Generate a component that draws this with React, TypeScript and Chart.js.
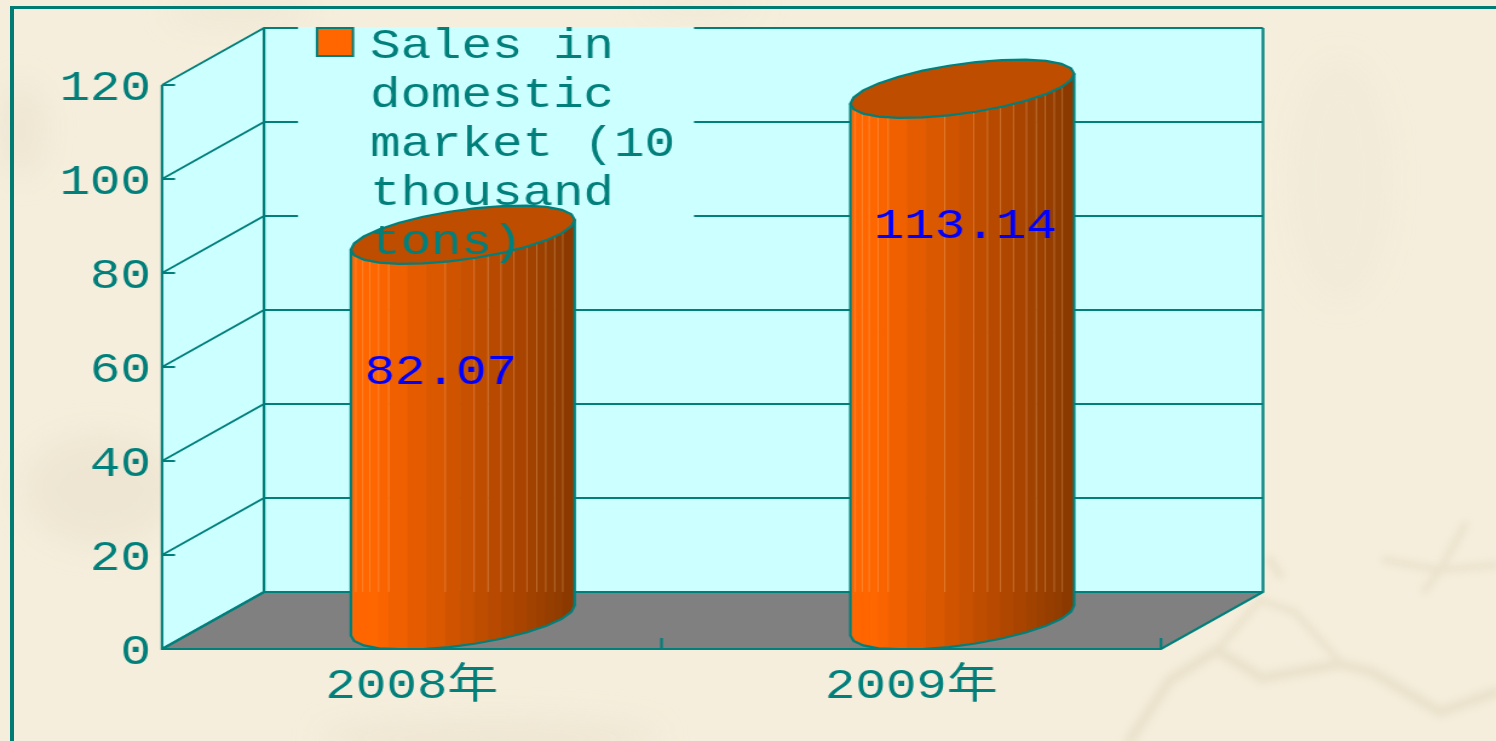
import React, { useEffect, useRef } from "react";
import { Chart, registerables } from "chart.js";

Chart.register(...registerables);

const categories = ["2008年", "2009年"];
const salesValues = [82.07, 113.14];
const seriesLabel = "Sales in domestic market (10 thousand tons)";
const legendLines = ["Sales in", "domestic", "market (10", "thousand", "tons)"];

const PAGE_W = 1496;
const PAGE_H = 741;
const CANVAS_W = 1236;
const SX = PAGE_W / CANVAS_W;
const px = (v: number) => v / SX;

const TEAL = "#007F7B";
const CYAN = "#CCFFFF";
const FONT = '"Liberation Mono", "Noto Sans CJK SC", monospace';
const DEPTH_X = px(102);
const DEPTH_Y = 57;
const labelShift = [px(-22), px(3)];
const seamStops = [0.022, 0.053, 0.084, 0.124, 0.169, 0.422, 0.551, 0.613, 0.671, 0.729, 0.787, 0.831, 0.871, 0.911, 0.947];
const fillerStops = [0.253, 0.338, 0.489];

function facetColor(t: number) {
  const k = Math.max(0, Math.min(1, (t - 0.1) / 0.9));
  const a = [255, 102, 0];
  const b = [136, 56, 0];
  const c = a.map((v, i) => Math.round(v + (b[i] - v) * k));
  return `rgb(${c[0]},${c[1]},${c[2]})`;
}

const scene = {
  id: "scene",
  beforeDraw(chart: any) {
    const { ctx, scales, chartArea } = chart;
    const { left, right } = chartArea;
    const y = scales.y;
    const y0 = y.getPixelForValue(0);
    const yMax = y.getPixelForValue(120);
    ctx.save();
    // walls and floor
    ctx.fillStyle = CYAN;
    ctx.fillRect(left + DEPTH_X, yMax - DEPTH_Y, right - left, y0 - yMax);
    ctx.beginPath();
    ctx.moveTo(left, y0);
    ctx.lineTo(left, yMax);
    ctx.lineTo(left + DEPTH_X, yMax - DEPTH_Y);
    ctx.lineTo(left + DEPTH_X, y0 - DEPTH_Y);
    ctx.closePath();
    ctx.fill();
    ctx.fillStyle = "#808080";
    ctx.beginPath();
    ctx.moveTo(left, y0);
    ctx.lineTo(left + DEPTH_X, y0 - DEPTH_Y);
    ctx.lineTo(right + DEPTH_X, y0 - DEPTH_Y);
    ctx.lineTo(right, y0);
    ctx.closePath();
    ctx.fill();

    ctx.strokeStyle = TEAL;
    ctx.lineWidth = 1.8;
    for (const tick of y.ticks) {
      const p = y.getPixelForValue(tick.value);
      ctx.beginPath();
      ctx.moveTo(left, p);
      ctx.lineTo(left + px(13), p);
      ctx.moveTo(left, p);
      ctx.lineTo(left + DEPTH_X, p - DEPTH_Y);
      ctx.lineTo(right + DEPTH_X, p - DEPTH_Y);
      ctx.stroke();
    }
    ctx.lineWidth = 2.2;
    ctx.beginPath();
    ctx.moveTo(left, yMax);
    ctx.lineTo(left, y0);
    ctx.lineTo(right, y0);
    ctx.lineTo(right + DEPTH_X, y0 - DEPTH_Y);
    ctx.lineTo(right + DEPTH_X, yMax - DEPTH_Y);
    ctx.moveTo(left + DEPTH_X, yMax - DEPTH_Y);
    ctx.lineTo(left + DEPTH_X, y0 - DEPTH_Y);
    ctx.lineTo(right + DEPTH_X, y0 - DEPTH_Y);
    ctx.moveTo(left, y0);
    ctx.lineTo(left + DEPTH_X, y0 - DEPTH_Y);
    ctx.stroke();
    ctx.beginPath();
    const band = (right - left) / categories.length;
    for (let i = 1; i <= categories.length; i++) {
      ctx.moveTo(left + band * i, y0);
      ctx.lineTo(left + band * i, y0 - 11);
    }
    ctx.stroke();

    // legend panel and swatch
    ctx.fillStyle = CYAN;
    ctx.fillRect(px(298), 27, px(396), 243);
    ctx.fillStyle = "#FF6600";
    ctx.strokeStyle = TEAL;
    ctx.lineWidth = 2;
    ctx.fillRect(px(317), 28, px(36), 28);
    ctx.strokeRect(px(317), 28, px(36), 28);

    // cylinders
    const meta = chart.getDatasetMeta(0);
    const SEG = 26;
    const tiltY = 15;
    const sweepY = 25;
    const edges = [0, ...seamStops, ...fillerStops, 1].sort((p, q) => p - q);
    meta.data.forEach((bar: any) => {
      const a = bar.width / 2;
      const cx = bar.x + DEPTH_X / 2;
      const topY = bar.y - DEPTH_Y / 2;
      const baseY = bar.base - DEPTH_Y / 2;
      const ey = (cy: number, t: number) => cy - tiltY * Math.cos(t) + sweepY * Math.sin(t);
      const ex = (t: number) => cx + a * Math.cos(t);
      ctx.save();
      ctx.beginPath();
      for (let i = 0; i <= SEG / 2; i++) {
        const t = Math.PI - (i / (SEG / 2)) * Math.PI;
        ctx.lineTo(ex(t), ey(topY, t));
      }
      for (let i = 0; i <= SEG / 2; i++) {
        const t = (i / (SEG / 2)) * Math.PI;
        ctx.lineTo(ex(t), ey(baseY, t));
      }
      ctx.closePath();
      ctx.clip();
      for (let i = 0; i < edges.length - 1; i++) {
        const x1 = cx - a + 2 * a * edges[i];
        const x2 = cx - a + 2 * a * edges[i + 1];
        ctx.fillStyle = facetColor((edges[i] + edges[i + 1]) / 2);
        ctx.fillRect(x1, topY - 40, x2 - x1 + 0.6, baseY - topY + 90);
      }
      ctx.strokeStyle = "rgba(255,205,150,0.38)";
      ctx.lineWidth = 0.8;
      for (const s of seamStops) {
        const x = cx - a + 2 * a * s;
        ctx.beginPath();
        ctx.moveTo(x, topY - 40);
        ctx.lineTo(x, bar.base - DEPTH_Y);
        ctx.stroke();
      }
      ctx.restore();
      ctx.strokeStyle = TEAL;
      ctx.lineWidth = 2.2;
      ctx.beginPath();
      ctx.moveTo(ex(Math.PI), ey(topY, Math.PI));
      ctx.lineTo(ex(Math.PI), ey(baseY, Math.PI));
      for (let i = 0; i <= SEG / 2; i++) {
        const t = Math.PI - (i / (SEG / 2)) * Math.PI;
        ctx.lineTo(ex(t), Math.min(ey(baseY, t), bar.base));
      }
      ctx.lineTo(ex(0), ey(topY, 0));
      ctx.stroke();
      // cap
      ctx.beginPath();
      for (let i = 0; i <= SEG; i++) {
        const t = (i / SEG) * Math.PI * 2;
        if (i === 0) ctx.moveTo(ex(t), ey(topY, t));
        else ctx.lineTo(ex(t), ey(topY, t));
      }
      ctx.closePath();
      ctx.fillStyle = "#BF4D00";
      ctx.fill();
      ctx.stroke();
    });
    ctx.restore();
  },
  afterLayout(chart: any) {
    const lg = chart.legend;
    if (!lg) return;
    const w = lg.width;
    const h = lg.height;
    lg.left = px(315);
    lg.top = 26;
    lg.right = lg.left + w;
    lg.bottom = lg.top + h + 300;
    lg.adjustHitBoxes();
  },
  afterDatasetsDraw(chart: any) {
    const { ctx } = chart;
    const meta = chart.getDatasetMeta(0);
    ctx.save();
    ctx.font = `42px ${FONT}`;
    ctx.fillStyle = "#0000FF";
    ctx.textAlign = "center";
    ctx.textBaseline = "middle";
    meta.data.forEach((bar: any, i: number) => {
      const x = bar.x + DEPTH_X / 2 + labelShift[i];
      ctx.fillText(salesValues[i].toFixed(2), x, bar.y + 110);
    });
    ctx.restore();
  },
};

export default function App() {
  const ref = useRef<HTMLCanvasElement>(null);
  useEffect(() => {
    const chart = new Chart(ref.current as HTMLCanvasElement, {
      type: "bar",
      data: {
        labels: categories,
        datasets: [
          {
            label: seriesLabel,
            data: salesValues,
            backgroundColor: "rgba(0,0,0,0)",
            borderWidth: 0,
            categoryPercentage: 1,
            barPercentage: 0.448,
          },
        ],
      },
      plugins: [scene],
      options: {
        responsive: false,
        animation: false,
        devicePixelRatio: 1,
        layout: { padding: { top: 85, right: px(PAGE_W - 1161), left: 0, bottom: 0 } },
        scales: {
          x: {
            grid: { display: false },
            border: { display: false },
            ticks: {
              color: TEAL,
              font: { family: FONT, size: 42, lineHeight: 1.0 },
              maxRotation: 0,
              padding: 9,
            },
            afterFit(scale: any) {
              scale.height = PAGE_H - 649;
            },
          },
          y: {
            min: 0,
            max: 120,
            grid: { display: false, drawTicks: false },
            border: { display: false },
            ticks: {
              stepSize: 20,
              color: TEAL,
              font: { family: FONT, size: 42, lineHeight: 1.0 },
              padding: px(11),
              labelOffset: 4,
            },
            afterFit(scale: any) {
              scale.width = px(162);
            },
          },
        },
        plugins: {
          title: { display: false },
          tooltip: { enabled: false },
          legend: {
            display: true,
            position: "chartArea",
            align: "start",
            labels: {
              color: TEAL,
              boxWidth: px(55) - 21,
              boxHeight: 28,
              padding: 0,
              font: { family: FONT, size: 42, lineHeight: 49 / 42 },
              generateLabels: () => [
                {
                  text: legendLines as any,
                  fontColor: TEAL,
                  fillStyle: "rgba(0,0,0,0)",
                  strokeStyle: "rgba(0,0,0,0)",
                  lineWidth: 0,
                  datasetIndex: 0,
                },
              ],
            },
          },
        },
      },
    } as any);
    return () => chart.destroy();
  }, []);

  return (
    <div
      style={{
        position: "fixed",
        left: 0,
        top: 0,
        width: PAGE_W,
        height: PAGE_H,
        overflow: "hidden",
        background: "#F5EEDC",
      }}
    >
      <svg width={PAGE_W} height={PAGE_H} style={{ position: "absolute", left: 0, top: 0 }}>
        <defs>
          <filter id="soft" x="-20%" y="-20%" width="140%" height="140%">
            <feGaussianBlur stdDeviation="3.5" />
          </filter>
          <filter id="softer" filterUnits="userSpaceOnUse" x="0" y="0" width="1496" height="741">
            <feGaussianBlur stdDeviation="14" />
          </filter>
        </defs>
        <g filter="url(#softer)" fill="#EEE6D3">
          <ellipse cx="100" cy="490" rx="75" ry="55" />
          <ellipse cx="22" cy="130" rx="22" ry="45" />
          <ellipse cx="490" cy="738" rx="170" ry="18" />
          <ellipse cx="1340" cy="180" rx="50" ry="120" opacity="0.35" />
          <ellipse cx="240" cy="12" rx="70" ry="10" />
          <ellipse cx="700" cy="6" rx="60" ry="6" />
        </g>
        <g filter="url(#soft)" fill="none" stroke="#EAE2CC" strokeLinecap="round" strokeLinejoin="round">
          <path d="M1130 740 L1170 680 L1217 650 L1262 678 L1340 664 L1372 672 L1440 712 L1496 692" strokeWidth="11" />
          <path d="M1217 650 L1260 600 L1295 612 L1340 662" strokeWidth="7" />
          <path d="M1385 560 L1440 570 L1496 565 M1440 570 L1465 525 M1440 570 L1425 590" strokeWidth="7" />
          <path d="M1270 560 L1280 575" strokeWidth="8" />
        </g>
      </svg>
      <div
        style={{
          position: "absolute",
          left: 10,
          top: 6,
          width: PAGE_W,
          height: PAGE_H,
          borderLeft: "4px solid #007C74",
          borderTop: "3px solid #007C74",
        }}
      />
      <canvas
        ref={ref}
        width={CANVAS_W}
        height={PAGE_H}
        style={{
          position: "absolute",
          left: 0,
          top: 0,
          transform: `scaleX(${SX})`,
          transformOrigin: "0 0",
        }}
      />
    </div>
  );
}
